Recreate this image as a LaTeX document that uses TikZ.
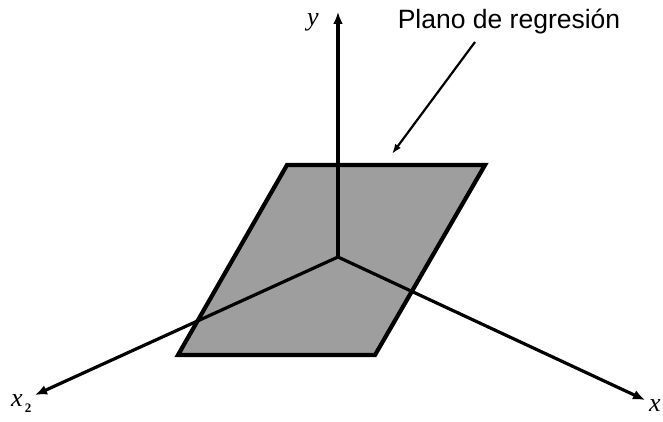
\documentclass[tikz,border=0pt]{standalone}
\usepackage{fontspec}
\setmainfont{Liberation Serif}
\setsansfont{Liberation Sans}
\usetikzlibrary{arrows.meta}
\begin{document}
\begin{tikzpicture}[x=1pt,y=1pt,
  axis/.style={line width=3.2pt,-{Latex[length=12pt,width=10pt]}},
  planebox/.style={fill={rgb,255:red,158;green,158;blue,158},draw=black,line width=4.2pt,line join=miter},
  pointer/.style={line width=2.2pt,-{Latex[length=10pt,width=7pt]}},
  varlabel/.style={font=\itshape\fontsize{26}{28}\selectfont,inner sep=0pt},
  title/.style={font=\sffamily\fontsize{26.5}{28}\selectfont,inner sep=0pt}]
\useasboundingbox (0,0) rectangle (663,421);
% plane corners
\coordinate (p1) at (287,256);
\coordinate (p2) at (485,256);
\coordinate (p3) at (375,66);
\coordinate (p4) at (178,66);
\draw[planebox] (p1) -- (p2) -- (p3) -- (p4) -- cycle;
% axes
\coordinate (o) at (338,164);
\coordinate (ytip) at (338,409);
\coordinate (xtip) at (645,21);
\coordinate (x2tip) at (35,26);
\draw[axis] (o) -- (ytip);
\draw[axis] (o) -- (xtip);
\draw[axis] (o) -- (x2tip);
% labels
\node[varlabel] (ylab) at (313,399) {y};
\node[varlabel] (xlab) at (655,15) {x};
\node[varlabel,anchor=base west] (x2lab) at (11,15) {x\raisebox{-6pt}{\upshape\bfseries\fontsize{13}{13}\selectfont\,2}};
\node[title] (ttl) at (509,400) {Plano de regresión};
\coordinate (ptrstart) at (475,379);
\coordinate (ptrend) at (392,267);
\draw[pointer] (ptrstart) -- (ptrend);
\end{tikzpicture}
\end{document}
